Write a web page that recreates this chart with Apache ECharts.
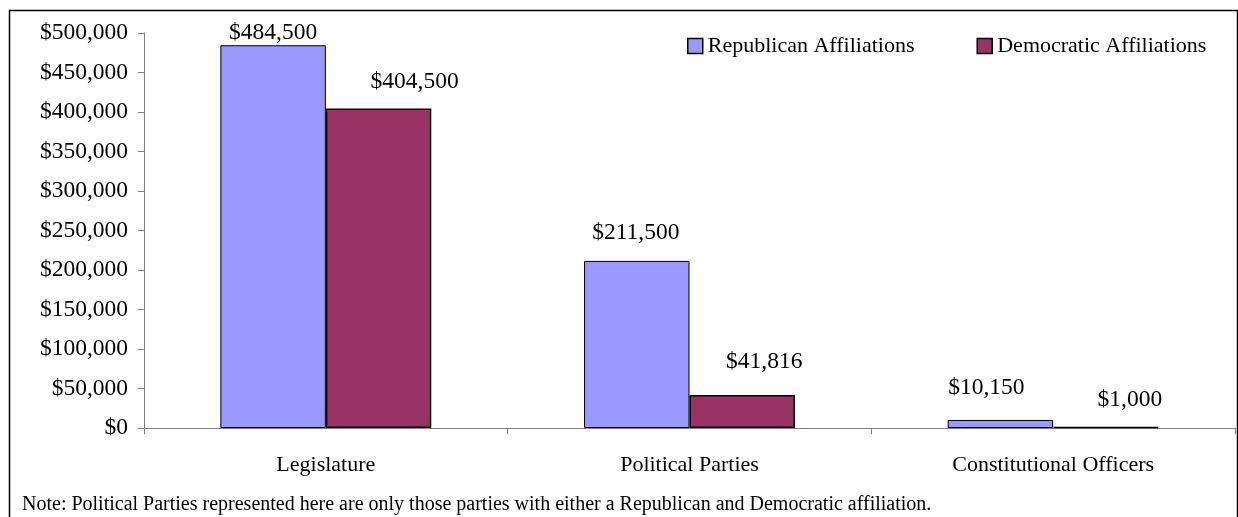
<!DOCTYPE html>
<html>
<head>
<meta charset="utf-8">
<script src="https://cdn.jsdelivr.net/npm/echarts@6/dist/echarts.min.js"></script>
<style>
html,body{margin:0;padding:0;background:#fff;}
#chart{width:1238px;height:517px;}
</style>
</head>
<body>
<div id="chart"></div>
<script>
const categories = ['Legislature', 'Political Parties', 'Constitutional Officers'];
const seriesNames = ['Republican Affiliations', 'Democratic Affiliations'];
const republican = [484500, 211500, 10150];
const democratic = [404500, 41816, 1000];
const yTicks = [0, 50000, 100000, 150000, 200000, 250000, 300000, 350000, 400000, 450000, 500000];
const noteText = 'Note: Political Parties represented here are only those parties with either a Republican and Democratic affiliation.';

const FONT = '"Liberation Serif", "Times New Roman", serif';
// label nudges (style only), per bar
const repLabelOffsets = [[0, 0], [-1, -16], [-14, -20]];
const demLabelOffsets = [[36, -15], [22, -21], [24, -15]];

function money(v) {
  return '$' + Number(v).toLocaleString('en-US');
}

function buildData(values, offsets) {
  return values.map((v, i) => ({
    value: v,
    label: { offset: offsets[i] }
  }));
}

const chart = echarts.init(document.getElementById('chart'), null, { renderer: 'canvas' });
chart.setOption({
  animation: false,
  backgroundColor: '#ffffff',
  textStyle: { fontFamily: FONT, color: '#000' },
  grid: { left: 144, right: 3, top: 33, bottom: 89, containLabel: false },
  legend: {
    data: seriesNames,
    left: 682,
    top: 30,
    itemWidth: 15,
    itemHeight: 15,
    itemGap: 62,
    icon: 'rect',
    textStyle: { fontFamily: FONT, fontSize: 22, color: '#000' },
    itemStyle: { borderColor: '#000', borderWidth: 1.5 }
  },
  xAxis: {
    type: 'category',
    data: categories,
    axisLine: { lineStyle: { color: '#808080', width: 1 } },
    axisTick: { show: true, alignWithLabel: false, length: 6, lineStyle: { color: '#808080' } },
    axisLabel: { fontFamily: FONT, fontSize: 22, color: '#000', margin: 26 }
  },
  yAxis: {
    type: 'value',
    min: yTicks[0],
    max: yTicks[yTicks.length - 1],
    interval: yTicks[1] - yTicks[0],
    splitLine: { show: false },
    axisLine: { show: true, lineStyle: { color: '#808080', width: 1 } },
    axisTick: { show: true, length: 6, lineStyle: { color: '#808080' } },
    axisLabel: { fontFamily: FONT, fontSize: 23.5, color: '#000', margin: 16, formatter: money }
  },
  series: [
    {
      name: seriesNames[0],
      type: 'bar',
      data: buildData(republican, repLabelOffsets),
      barGap: '0%',
      barCategoryGap: '42%',
      itemStyle: { color: '#9999FF', borderColor: '#000', borderWidth: 1 },
      label: {
        show: true, position: 'top', distance: 0,
        fontFamily: FONT, fontSize: 23.5, color: '#000',
        formatter: p => money(p.value)
      }
    },
    {
      name: seriesNames[1],
      type: 'bar',
      data: buildData(democratic, demLabelOffsets),
      barGap: '0%',
      barCategoryGap: '42%',
      itemStyle: { color: '#993366', borderColor: '#000', borderWidth: 1.5 },
      label: {
        show: true, position: 'top', distance: 0,
        fontFamily: FONT, fontSize: 23.5, color: '#000',
        formatter: p => money(p.value)
      }
    }
  ],
  graphic: [
    {
      type: 'rect',
      shape: { x: 9.5, y: 10.5, width: 1228, height: 530 },
      style: { fill: 'none', stroke: '#000', lineWidth: 1.5 },
      silent: true
    },
    {
      type: 'text',
      left: 22,
      top: 495,
      style: { text: noteText, font: '20px ' + FONT, fill: '#000' }
    }
  ]
});
</script>
</body>
</html>
